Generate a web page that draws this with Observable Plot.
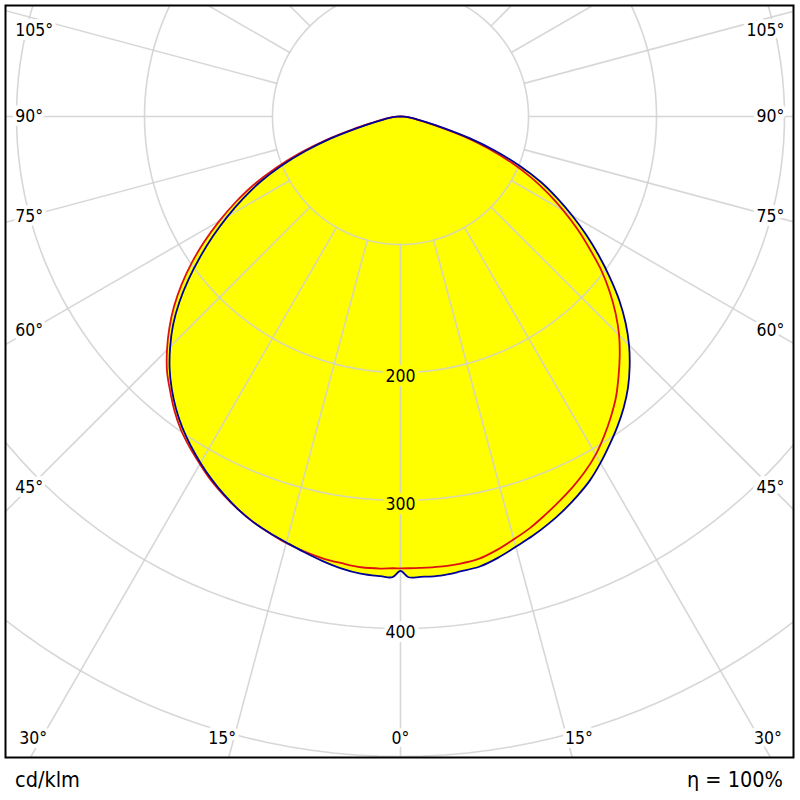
<!DOCTYPE html>
<html>
<head>
<meta charset="utf-8">
<script src="https://cdn.jsdelivr.net/npm/d3@7"></script>
<script src="https://cdn.jsdelivr.net/npm/@observablehq/plot@0.6"></script>
<style>
  body { margin: 0; background: #fff; font-family: "DejaVu Sans Condensed", "DejaVu Sans", sans-serif; }
  #wrap { width: 800px; }
  #chart svg { display: block; }
  #foot { display: flex; justify-content: space-between; padding: 0 17px 0 15px;
          font-size: 21.5px; line-height: 24px; margin-top: 8px; color: #000; }
</style>
</head>
<body>
<div id="wrap">
  <div id="chart"></div>
  <div id="foot"><span>cd/klm</span><span>η = 100%</span></div>
</div>
<script>
// Gamma angles (degrees from nadir)
const angles = [0, 1, 2.5, 5, 7.5, 10, 12.5, 15, 17.5, 20, 22.5, 25, 27.5, 30, 32.5, 35, 37.5, 40,
                42.5, 45, 47.5, 50, 52.5, 55, 57.5, 60, 62.5, 65, 67.5, 70, 72.5, 75, 77.5, 80,
                82.5, 85, 87.5, 90];
// C0 plane (red, left half) cd/klm
const c0   = [353, 353, 353.5, 353.5, 352, 350.5, 348, 345, 341, 337, 332, 326.5, 320.5, 313.5,
              306.5, 299, 290, 280, 270, 258, 245, 231, 215.5, 199, 181.5, 163.5, 145.5, 127, 106,
              84, 61, 38, 22.5, 14.5, 10, 6.5, 3, 0];
// C180 plane (red, right half)
const c180 = [353, 353, 353, 353, 352.5, 351, 347, 342, 337, 331, 325, 319, 312.5, 305, 296,
              286.5, 276.5, 265, 253.5, 241.5, 228, 213.5, 198, 180.5, 164, 147, 130, 112.5, 93.5,
              73, 52.5, 32, 19, 12.5, 9, 5.5, 3, 0];
// C90 plane (blue, left half)
const c90  = [355, 360, 359.5, 358.5, 356, 352.5, 348.5, 344.5, 341, 337, 332, 326, 319.5, 312.5,
              305, 297, 288, 278, 267, 254.5, 241, 225.5, 208.5, 191, 173.5, 156, 138.5, 121, 101,
              79, 57, 35, 20.5, 13, 9.3, 6, 3, 0];
// C270 plane (blue, right half)
const c270 = [355, 360, 360, 360, 358.5, 357, 353, 348, 343.5, 338.5, 333, 327, 320.5, 312.5,
              304, 295.5, 286.5, 276.5, 265, 252.5, 238.5, 223, 206, 189, 172, 155, 138, 121, 101,
              79, 57, 35, 20.5, 13, 9.3, 6, 3, 0];

const ringValues = [100, 200, 300, 400, 500];
const ringLabelsIn = [200, 300];
const ringLabelsOut = [400];
const spokeAngles = d3.range(0, 360, 15);
const angleLabels = [0, 15, 30, 45, 60, 75, 90, 105];

// layout: pixels per cd/klm and pixel position of the pole
const PX = 1.28, CX = 400, CY = 116;
const W = 800, H = 760, mL = 5, mR = 7, mT = 5, mB = 3;

const rad = a => a * Math.PI / 180;

function polygon(left, right) {
  const pts = [];
  for (let i = angles.length - 1; i >= 0; i--) {
    const t = rad(angles[i]);
    pts.push({x: -left[i] * Math.sin(t), y: -left[i] * Math.cos(t)});
  }
  for (let i = 1; i < angles.length; i++) {
    const t = rad(angles[i]);
    pts.push({x: right[i] * Math.sin(t), y: -right[i] * Math.cos(t)});
  }
  return pts;
}
const redPoly = polygon(c0, c180);
const bluePoly = polygon(c90, c270);

// grid
const circlePts = ringValues.flatMap(r =>
  d3.range(0, 361, 2).map(a => ({r, x: r * Math.sin(rad(a)), y: -r * Math.cos(rad(a))})));
const spokes = spokeAngles.map(a => ({
  x1: 100 * Math.sin(rad(a)), y1: -100 * Math.cos(rad(a)),
  x2: 800 * Math.sin(rad(a)), y2: -800 * Math.cos(rad(a))
}));

// angle labels
const bottomLabels = [], leftLabels = [], rightLabels = [];
for (const a of angleLabels) {
  const t = rad(a);
  if (a <= 30) {
    const x = Math.min(520 * Math.tan(t), 287);
    bottomLabels.push({x: -x, y: -486, text: a + "°"});
    if (a > 0) bottomLabels.push({x: x, y: -486, text: a + "°"});
  } else {
    const y = Math.min(-290 / Math.tan(t), 67);
    leftLabels.push({x: -301, y, text: a + "°"});
    rightLabels.push({x: 300, y, text: a + "°"});
  }
}

const gridStyle = {stroke: "#d0d0d0", strokeOpacity: 0.85, strokeWidth: 1.6, clip: true};
const font = "\"DejaVu Sans Condensed\", \"DejaVu Sans\", sans-serif";
const FS = 17.5;

const chart = Plot.plot({
  width: W, height: H,
  marginLeft: mL, marginRight: mR, marginTop: mT, marginBottom: mB,
  x: {domain: [(mL - CX) / PX, (W - mR - CX) / PX], axis: null},
  y: {domain: [-(H - mB - CY) / PX, (CY - mT) / PX], axis: null},
  style: {fontFamily: font, fontSize: FS + "px", background: "white", color: "black"},
  marks: [
    Plot.line(redPoly, {x: "x", y: "y", fill: "#ffff00", stroke: "none", curve: "catmull-rom"}),
    Plot.line(bluePoly, {x: "x", y: "y", fill: "#ffff00", stroke: "none", curve: "catmull-rom"}),
    Plot.line(circlePts, {x: "x", y: "y", z: "r", ...gridStyle}),
    Plot.link(spokes, {x1: "x1", y1: "y1", x2: "x2", y2: "y2", ...gridStyle}),
    Plot.text(ringLabelsIn, {x: 0, y: d => -d, dy: 4, text: d => String(d), fill: "black",
      stroke: "#ffff00", strokeWidth: 8, paintOrder: "stroke", fontSize: FS}),
    Plot.text(ringLabelsOut, {x: 0, y: d => -d, dy: 4, text: d => String(d), fill: "black",
      stroke: "white", strokeWidth: 8, paintOrder: "stroke", fontSize: FS}),
    Plot.line(redPoly, {x: "x", y: "y", stroke: "#dd1111", strokeWidth: 1.8, curve: "catmull-rom"}),
    Plot.line(bluePoly, {x: "x", y: "y", stroke: "#000099", strokeWidth: 1.8, curve: "catmull-rom"}),
    Plot.text(leftLabels, {x: "x", y: "y", text: "text", textAnchor: "start", fill: "black",
      stroke: "white", strokeWidth: 8, paintOrder: "stroke", fontSize: FS}),
    Plot.text(rightLabels, {x: "x", y: "y", text: "text", textAnchor: "end", fill: "black",
      stroke: "white", strokeWidth: 8, paintOrder: "stroke", fontSize: FS}),
    Plot.text(bottomLabels, {x: "x", y: "y", text: "text", textAnchor: "middle", fill: "black",
      stroke: "white", strokeWidth: 8, paintOrder: "stroke", fontSize: FS}),
    Plot.frame({stroke: "black", strokeWidth: 2})
  ]
});
document.getElementById("chart").appendChild(chart);
</script>
</body>
</html>
